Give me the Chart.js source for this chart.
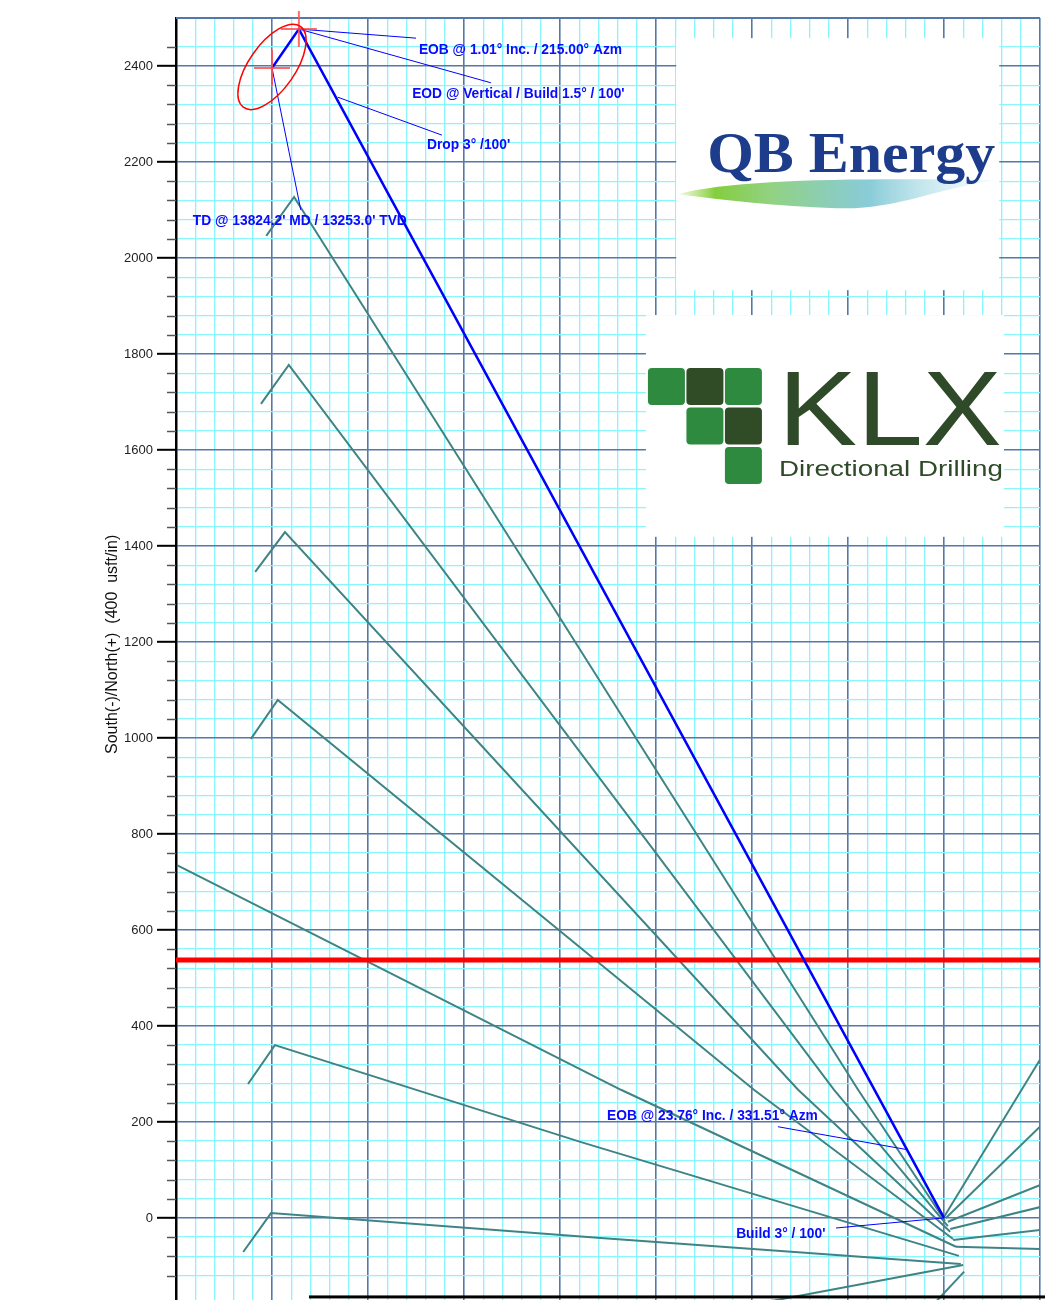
<!DOCTYPE html>
<html>
<head>
<meta charset="utf-8">
<script src="https://cdn.jsdelivr.net/npm/chart.js@4.4.0/dist/chart.umd.min.js"></script>
<style>
  html, body { margin: 0; padding: 0; background: #fff; overflow: hidden; }
  #wrap { width: 1045px; height: 1300px; position: relative; }
</style>
</head>
<body>
<div id="wrap"><canvas id="plan" width="1045" height="1300"></canvas></div>
<script>
// Plan view, usft. x = West(-)/East(+), y = South(-)/North(+)
const X_MIN = -200, X_MAX = 1600, Y_MIN = -171, Y_MAX = 2500;

// subject well (blue)
const planWell = [{x: 0, y: 2396}, {x: 56, y: 2477}, {x: 1400, y: 0}];
const wellMarkers = [{x: 0, y: 2396}, {x: 56, y: 2477}];

// offset wells (teal)
const offsetWells = [
  [{x: -12, y: 2046}, {x: 46, y: 2127}, {x: 1221, y: 267}, {x: 1402, y: -6}],
  [{x: -23, y: 1696}, {x: 35, y: 1777}, {x: 1171, y: 267}, {x: 1408, y: -17}],
  [{x: -35, y: 1346}, {x: 27, y: 1429}, {x: 1096, y: 267}, {x: 1413, y: -29}],
  [{x: -44, y: 998}, {x: 12, y: 1079}, {x: 1004, y: 267}, {x: 1419, y: -44}],
  [{x: -198, y: 735}, {x: 727, y: 267}, {x: 1425, y: -60}],
  [{x: -50, y: 279}, {x: 6, y: 360}, {x: 644, y: 158}, {x: 1431, y: -79}],
  [{x: -60, y: -71}, {x: -2, y: 10}, {x: 685, y: -42}, {x: 1435, y: -96}],
  [{x: 685, y: -240}, {x: 1440, y: -98}],
  [{x: 1350, y: -210}, {x: 1442, y: -112}],
  [{x: 1400, y: 2}, {x: 1602, y: 333}],
  [{x: 1404, y: 0}, {x: 1602, y: 192}],
  [{x: 1408, y: -8}, {x: 1602, y: 69}],
  [{x: 1413, y: -23}, {x: 1602, y: 23}],
  [{x: 1419, y: -46}, {x: 1602, y: -25}],
  [{x: 1425, y: -60}, {x: 1602, y: -65}]
];

// hard line (red)
const hardLine = [{x: -200, y: 537.5}, {x: 1600, y: 537.5}];

// callouts: text anchor (left, middle) + leader line
const callouts = [
  {text: "EOB @ 1.01° Inc. / 215.00° Azm", x: 306, y: 2433, leader: [{x: 56, y: 2477}, {x: 300, y: 2458}]},
  {text: "EOD @ Vertical / Build 1.5° / 100'", x: 292, y: 2342, leader: [{x: 56, y: 2477}, {x: 456, y: 2365}]},
  {text: "Drop 3° /100'", x: 323, y: 2235, leader: [{x: 137, y: 2335}, {x: 354, y: 2256}]},
  {text: "TD @ 13824.2' MD / 13253.0' TVD", x: -165, y: 2077, leader: [{x: 0, y: 2396}, {x: 60, y: 2100}]},
  {text: "EOB @ 23.76° Inc. / 331.51° Azm", x: 698, y: 212, leader: [{x: 1054, y: 190}, {x: 1325, y: 142}]},
  {text: "Build 3° / 100'", x: 967, y: -33, leader: [{x: 1175, y: -21}, {x: 1400, y: 0}]}
];

// error ellipse around surface location (usft)
const ellipse = {x: 0, y: 2398, a: 103, b: 48, angle: 55};

const MAJOR = '#5479a8', MINOR = '#88f6fa', TEAL = '#3f8484', BLUE = '#0000ff';
const gridColor = c => (c.tick && c.tick.value % 200 === 0) ? MAJOR : MINOR;
const gridWidth = c => (c.tick && c.tick.value % 200 === 0) ? 1.6 : 1.3;

const datasets = [];
datasets.push({data: wellMarkers, showLine: false, pointStyle: 'cross', pointRadius: 18,
  borderColor: 'rgba(255,80,80,0.85)', borderWidth: 2, clip: false});
datasets.push({data: planWell, borderColor: BLUE, borderWidth: 2.5, pointRadius: 0});
callouts.forEach(c => datasets.push({data: c.leader, borderColor: BLUE, borderWidth: 1, pointRadius: 0}));
datasets.push({data: hardLine, borderColor: '#ff0000', borderWidth: 5, pointRadius: 0});
offsetWells.forEach(w => datasets.push({data: w, borderColor: TEAL, borderWidth: 2, pointRadius: 0}));

function stretchText(ctx, txt, x, y, width) {
  const w = ctx.measureText(txt).width;
  ctx.save();
  ctx.translate(x, y);
  ctx.scale(width / w, 1);
  ctx.fillText(txt, 0, 0);
  ctx.restore();
}

function drawQB(ctx, L, T, W, H) {
  ctx.fillStyle = '#fff';
  ctx.fillRect(L, T, W, H);
  const g = ctx.createLinearGradient(L, 0, L + W, 0);
  g.addColorStop(0, 'rgba(150,215,70,0.1)');
  g.addColorStop(0.12, 'rgba(120,200,40,0.9)');
  g.addColorStop(0.3, 'rgba(110,195,90,0.75)');
  g.addColorStop(0.6, 'rgba(60,170,190,0.6)');
  g.addColorStop(1, 'rgba(180,228,240,0.1)');
  ctx.beginPath();
  ctx.moveTo(L + 2, T + 156);
  ctx.bezierCurveTo(L + 60, T + 140, L + 200, T + 140, L + 320, T + 142);
  ctx.bezierCurveTo(L + 260, T + 150, L + 220, T + 172, L + 160, T + 170);
  ctx.bezierCurveTo(L + 100, T + 168, L + 50, T + 162, L + 2, T + 156);
  ctx.fillStyle = g;
  ctx.fill();
  ctx.fillStyle = '#1d3d8c';
  ctx.font = 'bold 58px "Liberation Serif"';
  ctx.textBaseline = 'alphabetic';
  ctx.textAlign = 'left';
  stretchText(ctx, 'QB Energy', L + 31, T + 134, 288);
}

function drawKLX(ctx, L, T, W, H) {
  ctx.fillStyle = '#fff';
  ctx.fillRect(L, T, W, H);
  const green = '#2e8a3f', dark = '#2f4c27';
  const cells = [[0, 0, green], [1, 0, dark], [2, 0, green], [1, 1, green], [2, 1, dark], [2, 2, green]];
  cells.forEach(([c, r, col]) => {
    ctx.fillStyle = col;
    ctx.beginPath();
    ctx.roundRect(L + 2 + c * 38.5, T + 53 + r * 39.5, 37, 37, 4);
    ctx.fill();
  });
  ctx.fillStyle = '#2f4a28';
  ctx.textBaseline = 'alphabetic';
  ctx.font = '106px "Liberation Sans"';
  stretchText(ctx, 'KLX', L + 132, T + 130, 224);
  ctx.font = '22px "Liberation Sans"';
  stretchText(ctx, 'Directional Drilling', L + 133, T + 161, 224);
}

const decor = {
  id: 'decor',
  beforeDatasetsDraw(chart) {
    const {ctx, scales: {x, y}, chartArea: a} = chart;
    ctx.save();
    // top frame
    ctx.strokeStyle = MAJOR;
    ctx.lineWidth = 2;
    ctx.beginPath();
    ctx.moveTo(a.left, a.top);
    ctx.lineTo(a.right, a.top);
    ctx.stroke();
    // logo panels
    const qx = x.getPixelForValue(842), qy = y.getPixelForValue(2458);
    drawQB(ctx, qx, qy, x.getPixelForValue(1515) - qx, y.getPixelForValue(1933) - qy);
    const kx = x.getPixelForValue(779), ky = y.getPixelForValue(1881);
    drawKLX(ctx, kx, ky, x.getPixelForValue(1525) - kx, y.getPixelForValue(1419) - ky);
    ctx.restore();
  },
  afterDatasetsDraw(chart) {
    const {ctx, scales: {x, y}} = chart;
    ctx.save();
    // error ellipse
    const ppx = x.getPixelForValue(1) - x.getPixelForValue(0);
    ctx.strokeStyle = '#ff0000';
    ctx.lineWidth = 1.5;
    ctx.beginPath();
    ctx.ellipse(x.getPixelForValue(ellipse.x), y.getPixelForValue(ellipse.y),
      ellipse.a * ppx, ellipse.b * ppx, -ellipse.angle * Math.PI / 180, 0, Math.PI * 2);
    ctx.stroke();
    // callout text
    ctx.fillStyle = '#0a0aff';
    ctx.font = 'bold 13.8px "Liberation Sans"';
    ctx.textBaseline = 'middle';
    ctx.textAlign = 'left';
    callouts.forEach(c => ctx.fillText(c.text, x.getPixelForValue(c.x), y.getPixelForValue(c.y)));
    ctx.restore();
  },
  afterDraw(chart) {
    const {ctx, scales: {x, y}, chartArea: a} = chart;
    ctx.save();
    // minor ticks on the N/S axis
    ctx.strokeStyle = '#555';
    ctx.lineWidth = 1.5;
    y.ticks.forEach(t => {
      if (t.value % 200 === 0) return;
      const py = Math.round(y.getPixelForValue(t.value)) + 0.5;
      ctx.beginPath();
      ctx.moveTo(a.left - 9, py);
      ctx.lineTo(a.left, py);
      ctx.stroke();
    });
    // axis title
    ctx.fillStyle = '#111';
    ctx.font = '16px "Liberation Sans"';
    ctx.textAlign = 'center';
    ctx.textBaseline = 'middle';
    ctx.translate(113, y.getPixelForValue(1195));
    ctx.rotate(-Math.PI / 2);
    ctx.fillText('South(-)/North(+)  (400  usft/in)', 0, 0);
    ctx.restore();
    // edge of the title block below the plot
    ctx.save();
    ctx.fillStyle = '#000';
    const by = y.getPixelForValue(-164.6);
    ctx.fillRect(x.getPixelForValue(77), by - 1.5, chart.width, 3);
    ctx.restore();
  }
};

new Chart(document.getElementById('plan'), {
  type: 'scatter',
  data: {datasets: datasets.map(d => Object.assign({showLine: true, fill: false, tension: 0}, d))},
  options: {
    responsive: false,
    animation: false,
    events: [],
    layout: {autoPadding: false, padding: {left: 100, top: 18, right: 5, bottom: 0}},
    plugins: {legend: {display: false}, tooltip: {enabled: false}},
    scales: {
      x: {
        type: 'linear', min: X_MIN, max: X_MAX,
        afterFit: s => { s.height = 0; s.paddingLeft = 0; s.paddingRight = 0; s.paddingTop = 0; s.paddingBottom = 0; },
        ticks: {display: false, stepSize: 40},
        grid: {color: gridColor, lineWidth: gridWidth, drawTicks: false},
        border: {display: false}
      },
      y: {
        type: 'linear', min: Y_MIN, max: Y_MAX,
        afterBuildTicks: s => { s.ticks = s.ticks.filter(t => t.value % 40 === 0); },
        afterFit: s => { s.width = 76; s.paddingTop = 0; s.paddingBottom = 0; },
        ticks: {
          stepSize: 40, autoSkip: false, padding: 4, color: '#222',
          font: {family: '"Liberation Sans"', size: 13},
          callback: v => (v % 200 === 0 ? String(v) : '')
        },
        grid: {
          color: gridColor, lineWidth: gridWidth, tickLength: 19,
          tickColor: c => (c.tick && c.tick.value % 200 === 0) ? '#000' : 'rgba(0,0,0,0)',
          tickWidth: 2
        },
        border: {color: '#000', width: 2.5}
      }
    }
  },
  plugins: [decor]
});
</script>
</body>
</html>
